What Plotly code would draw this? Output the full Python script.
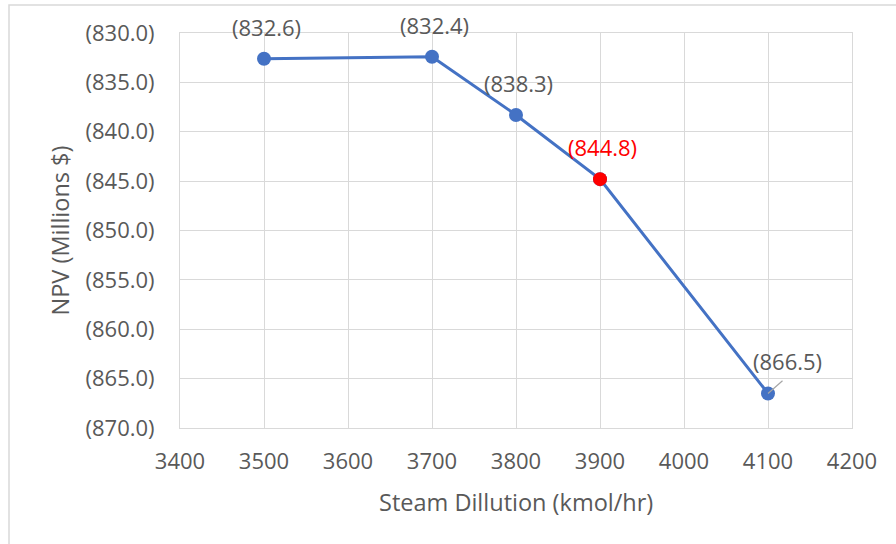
import plotly.graph_objects as go

# Data
steam_dilution = [3500, 3700, 3800, 3900, 4100]
npv = [-832.6, -832.4, -838.3, -844.8, -866.5]
highlight_x = [3900]
highlight_y = [-844.8]

x_ticks = [3400, 3500, 3600, 3700, 3800, 3900, 4000, 4100, 4200]
y_ticks = [-830, -835, -840, -845, -850, -855, -860, -865, -870]
y_ticktext = ["(830.0)", "(835.0)", "(840.0)", "(845.0)", "(850.0)", "(855.0)",
              "(860.0)", "(865.0)", "(870.0)"]

FONT = "Open Sans"
TXT = "#595959"
GRID = "#D9D9D9"
BLUE = "#4472C4"
FS = 22
TFS = 23.5

fig = go.Figure()
fig.add_trace(go.Scatter(
    x=steam_dilution, y=npv, mode="lines+markers",
    line=dict(color=BLUE, width=3),
    marker=dict(color=BLUE, size=14),
    hoverinfo="skip", showlegend=False,
))
fig.add_trace(go.Scatter(
    x=highlight_x, y=highlight_y, mode="markers",
    marker=dict(color="#FF0000", size=14),
    hoverinfo="skip", showlegend=False,
))

# data labels
for xv, yv in zip(steam_dilution, npv):
    label = f"({abs(yv):.1f})"
    color = "#FF0000" if xv in highlight_x else TXT
    if xv == 4100:
        # leader line
        fig.add_annotation(x=xv, y=yv, text="", showarrow=True,
                           arrowhead=0, arrowwidth=1.2, arrowcolor="#A6A6A6",
                           ax=16, ay=-14, standoff=0)
        fig.add_annotation(x=xv, y=yv, text=label, showarrow=False,
                           xshift=19, yshift=32,
                           font=dict(family=FONT, size=FS, color=color))
    else:
        fig.add_annotation(x=xv, y=yv, text=label, showarrow=False,
                           yshift=32, xshift=2,
                           font=dict(family=FONT, size=FS, color=color))

# axis titles
fig.add_annotation(xref="paper", yref="paper", x=0, y=0.5, xshift=-121,
                   xanchor="center", yanchor="middle",
                   text="NPV (Millions $)", textangle=-90, showarrow=False,
                   font=dict(family=FONT, size=TFS, color=TXT))
fig.add_annotation(xref="paper", yref="paper", x=0.5, y=0, yshift=-74,
                   xanchor="center", yanchor="middle",
                   text="Steam Dillution (kmol/hr)", showarrow=False,
                   font=dict(family=FONT, size=TFS, color=TXT))

# outer chart frame
fig.add_shape(type="rect", xref="paper", yref="paper",
              x0=-171/672, x1=1.3, y0=-0.5, y1=423/395,
              line=dict(color=GRID, width=1.5), layer="below")

fig.update_xaxes(range=[3400, 4200], tickvals=x_ticks,
                 showgrid=True, gridcolor=GRID, gridwidth=1,
                 showline=True, linecolor=GRID, linewidth=1, mirror=True,
                 zeroline=False, ticks="outside", ticklen=14,
                 tickcolor="rgba(0,0,0,0)",
                 tickfont=dict(family=FONT, size=FS, color=TXT))
fig.update_yaxes(range=[-870, -830], tickvals=y_ticks, ticktext=y_ticktext,
                 showgrid=True, gridcolor=GRID, gridwidth=1,
                 showline=True, linecolor=GRID, linewidth=1, mirror=True,
                 zeroline=False, ticks="outside", ticklen=20,
                 tickcolor="rgba(0,0,0,0)",
                 tickfont=dict(family=FONT, size=FS, color=TXT))

fig.update_layout(
    width=896, height=544,
    margin=dict(l=180, r=44, t=33, b=116),
    paper_bgcolor="white", plot_bgcolor="white",
    font=dict(family=FONT, color=TXT),
)

fig.write_html("out.html")
